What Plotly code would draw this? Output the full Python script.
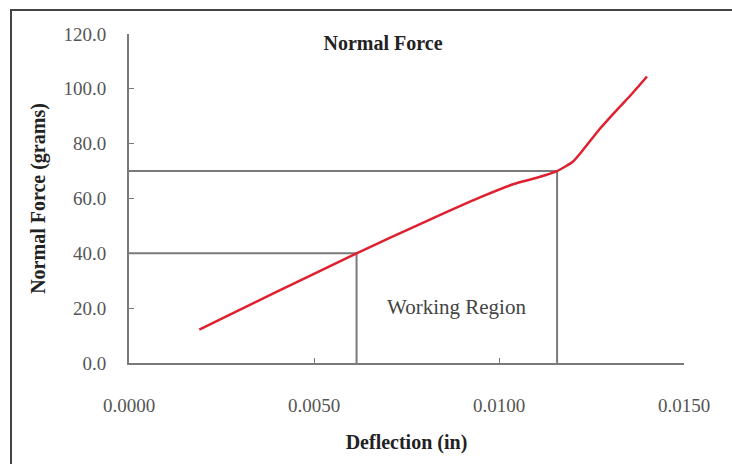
import plotly.graph_objects as go

deflection = [0.0019, 0.0040, 0.00615, 0.0080, 0.0095, 0.0104, 0.0110, 0.01157, 0.0120, 0.01227, 0.0127, 0.0132, 0.0136, 0.0140]
force = [12.2, 26.0, 40.0, 51.5, 60.5, 65.3, 67.5, 70.0, 73.5, 77.7, 85.0, 92.5, 98.3, 104.5]

work_lo_x, work_lo_y = 0.00615, 40.0
work_hi_x, work_hi_y = 0.01157, 70.0

x_ticks = [0.0, 0.005, 0.010, 0.015]
y_ticks = [0, 20, 40, 60, 80, 100, 120]

font = "Liberation Serif, Times New Roman, serif"
grey_line = "#7a7a7a"

fig = go.Figure()
for wx, wy in [(work_lo_x, work_lo_y), (work_hi_x, work_hi_y)]:
    fig.add_trace(go.Scatter(x=[0, wx, wx], y=[wy, wy, 0], mode="lines",
                             line=dict(color=grey_line, width=2), hoverinfo="skip", showlegend=False))
fig.add_trace(go.Scatter(x=deflection, y=force, mode="lines", line=dict(color="#e0202f", width=2.5),
                         line_shape="spline", line_smoothing=0.6, showlegend=False))

fig.add_annotation(x=(work_lo_x + work_hi_x) / 2, y=20.5, text="Working Region", showarrow=False,
                   font=dict(family=font, size=21, color="#444"))

axis_common = dict(showgrid=False, zeroline=False, showline=True, linecolor=grey_line, linewidth=2,
                   ticks="inside", ticklen=5, tickcolor=grey_line, tickwidth=1,
                   tickfont=dict(family=font, size=19, color="#555"))

fig.update_xaxes(range=[0, 0.015], tickvals=x_ticks, ticktext=[f"{v:.4f}" for v in x_ticks],
                 ticklabelstandoff=24, title=dict(text="<b>Deflection (in)</b>", font=dict(family=font, size=20, color="#222"), standoff=20),
                 **axis_common)
fig.update_yaxes(range=[0, 120], tickvals=y_ticks, ticktext=[f"{v:.1f}" for v in y_ticks],
                 ticklabelstandoff=17, title=dict(text="<b>Normal Force (grams)</b>", font=dict(family=font, size=20, color="#222"), standoff=12),
                 **axis_common)

fig.add_shape(type="rect", xref="paper", yref="paper", x0=-0.2126, x1=1.1, y0=-0.35, y1=1.073,
              line=dict(color="#444", width=2), layer="below")

fig.update_layout(
    width=732, height=464,
    margin=dict(l=129, r=48, t=34, b=101),
    paper_bgcolor="white", plot_bgcolor="white",
    title=dict(text="<b>Normal Force</b>", x=383 / 732, y=1 - 43 / 464, xanchor="center", yanchor="middle",
               font=dict(family=font, size=20, color="#222")),
)

fig.write_html("out.html", config={"displayModeBar": False},
               post_script="document.body.style.margin='0';document.body.style.overflow='hidden';")
